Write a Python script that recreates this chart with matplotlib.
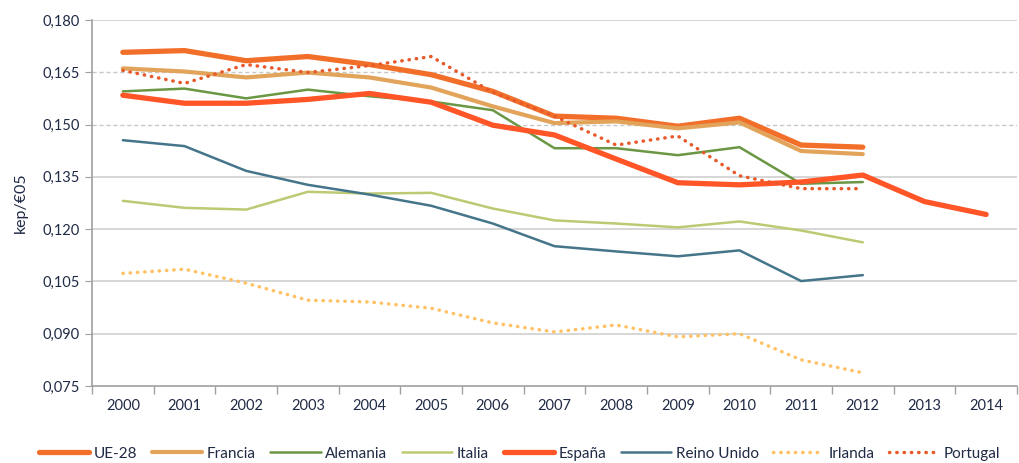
import matplotlib
matplotlib.use("Agg")
import matplotlib.pyplot as plt
from matplotlib.ticker import FixedLocator, FuncFormatter

plt.rcParams['font.family'] = ['Lato', 'DejaVu Sans']

years = [str(y) for y in range(2000, 2015)]

ue28 = [0.1707, 0.1712, 0.1683, 0.1695, 0.1672, 0.1643, 0.1595, 0.1524, 0.1518, 0.1495, 0.1518, 0.1441, 0.1435]
francia = [0.1661, 0.1652, 0.1635, 0.1649, 0.1635, 0.1606, 0.1552, 0.1504, 0.1509, 0.1489, 0.1506, 0.1424, 0.1415]
alemania = [0.1595, 0.1603, 0.1575, 0.1600, 0.1581, 0.1566, 0.1541, 0.1432, 0.1432, 0.1412, 0.1435, 0.1330, 0.1335]
italia = [0.1281, 0.1261, 0.1256, 0.1307, 0.1302, 0.1304, 0.1259, 0.1225, 0.1216, 0.1205, 0.1222, 0.1196, 0.1162]
espana = [0.1584, 0.1561, 0.1561, 0.1572, 0.1589, 0.1564, 0.1498, 0.1470, 0.1401, 0.1333, 0.1327, 0.1335, 0.1355, 0.1279, 0.1242]
reino_unido = [0.1455, 0.1438, 0.1367, 0.1327, 0.1299, 0.1267, 0.1216, 0.1151, 0.1136, 0.1122, 0.1139, 0.1051, 0.1068]
irlanda = [0.1073, 0.1085, 0.1045, 0.0996, 0.0991, 0.0973, 0.0931, 0.0905, 0.0925, 0.0891, 0.0900, 0.0825, 0.0788]
portugal = [0.1655, 0.1618, 0.1672, 0.1649, 0.1669, 0.1695, 0.1592, 0.1524, 0.1441, 0.1467, 0.1353, 0.1316, 0.1316]

yticks = [0.075, 0.090, 0.105, 0.120, 0.135, 0.150, 0.165, 0.180]

fig = plt.figure(figsize=(10.19, 4.63), dpi=100)
ax = fig.add_axes([0.0903, 0.1663, 0.9077, 0.7907])

x = list(range(len(years)))
dot = (0, (0.1, 2.0))
series = [
    ("UE-28", ue28, "#F26F2A", 3.8, "-"),
    ("Francia", francia, "#E2A35A", 3.0, "-"),
    ("Alemania", alemania, "#6A9744", 1.8, "-"),
    ("Italia", italia, "#BDC973", 1.8, "-"),
    ("España", espana, "#FF5527", 3.8, "-"),
    ("Reino Unido", reino_unido, "#44758A", 1.8, "-"),
    ("Irlanda", irlanda, "#FFC163", 2.5, dot),
    ("Portugal", portugal, "#E8592A", 2.5, dot),
]
order = [6, 3, 5, 2, 7, 1, 0, 4]
handles = {}
for i in order:
    name, vals, col, lw, ls = series[i]
    h, = ax.plot(x[:len(vals)], vals, color=col, lw=lw, ls=ls,
                 solid_capstyle='round', solid_joinstyle='round',
                 dash_capstyle='round', label=name, zorder=3 + i * 0.1)
    handles[name] = h

ax.set_xlim(-0.5, len(years) - 0.5)
ax.set_ylim(0.075, 0.180)
ax.set_yticks(yticks)
ax.yaxis.set_major_formatter(FuncFormatter(lambda v, p: f"{v:.3f}".replace(".", ",")))
ax.set_xticks(x)
ax.set_xticklabels(years)
ax.xaxis.set_minor_locator(FixedLocator([i - 0.5 for i in range(len(years) + 1)]))
ax.tick_params(axis='x', which='major', length=0, pad=9, labelsize=10.5, labelcolor="#1f2a44")
ax.tick_params(axis='x', which='minor', length=6, color="#a0a0a0", width=1)
ax.tick_params(axis='y', length=5, color="#a0a0a0", labelsize=10.5, labelcolor="#1f2a44", pad=4)

for s in ['top', 'right']:
    ax.spines[s].set_visible(False)
for s in ['left', 'bottom']:
    ax.spines[s].set_color("#a0a0a0")
    ax.spines[s].set_linewidth(1.2)

for v in yticks[1:]:
    if v in (0.150, 0.165):
        ax.axhline(v, color="#c8c8c8", lw=1, ls=(0, (3, 2)), zorder=1)
    else:
        ax.axhline(v, color="#cfcfcf", lw=1.2, zorder=1)

ax.set_ylabel("kep/€05", fontsize=11.5, color="#1f2a44", labelpad=10)

names = [s[0] for s in series]
fig.legend([handles[n] for n in names], names, loc='lower center', ncol=8,
           bbox_to_anchor=(0.51, -0.025), frameon=False, fontsize=11,
           handlelength=3.3, handletextpad=0.3, columnspacing=0.95,
           labelcolor="#1f2a44")

fig.savefig("out.png", dpi=100)
